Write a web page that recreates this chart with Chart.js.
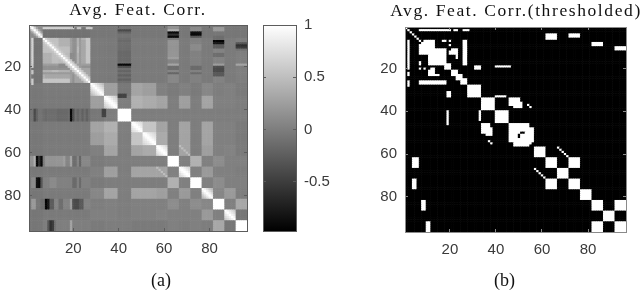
<!DOCTYPE html>
<html>
<head>
<meta charset="utf-8">
<script src="https://cdn.jsdelivr.net/npm/chart.js@4"></script>
<style>
  html, body { margin: 0; background: #fff; overflow: hidden; }
  #wrap { position: relative; width: 640px; height: 292px; overflow: hidden; }
  canvas { position: absolute; top: 0; }
</style>
</head>
<body>
<div id="wrap">
  <canvas id="corr" style="left:0" width="276" height="292"></canvas>
  <canvas id="bar" style="left:255px" width="85" height="292"></canvas>
  <canvas id="thresh" style="left:370px" width="292" height="292"></canvas>
</div>
<script>
const featureCount = 96;
const axisTicks = [20, 40, 60, 80];
const barTicks = [1, 0.5, 0, -0.5];
const barMin = -0.97;
const barMax = 1;

// feature groups, last feature of each
const groupEnds = [6, 27, 33, 39, 45, 50, 56, 61, 66, 71, 76, 81, 86, 91, 96];

// average correlation between groups (upper triangle)
const groupCorr = [
  [.1, -.05, -.04, -.04, -.08, -.04, -.04, -.04, -.04, -.04, -.04, -.05, -.05, -.05, -.05],
  [.4, -.02, -.03, -.12, -.02, -.02, -.02, .06, -.02, .03, -.02, .04, -.02, .01],
  [.68, .26, -.04, .3, .25, .02, -.02, .02, -.02, .07, .0, .02, -.02],
  [.78, .0, .4, .35, .3, .0, .26, .0, .3, .02, .02, .0],
  [1, .0, .0, .0, .0, .0, .0, .0, .0, .0, .0],
  [.85, .55, .3, .0, .3, .0, .3, .02, .02, -.02],
  [.85, .35, .0, .3, .0, .3, .02, .02, -.02],
  [.85, .0, .3, .0, .26, .02, .04, -.02],
  [1, .02, .38, .02, .12, .02, .02],
  [.9, .02, .22, .02, .02, .0],
  [1, .02, .12, .02, .02],
  [.75, .07, .22, .0],
  [1, .02, .33],
  [.85, -.05],
  [1]
];

// finer stripes: first col, last col, first row, last row, value (mirrored over the diagonal)
const corrPatches = [
  [7, 18, 2, 2, .65], [19, 20, 2, 2, .6], [22, 23, 2, 2, .55], [26, 28, 2, 2, .6],
  [7, 27, 3, 6, -.1], [3, 5, 7, 27, -.08], [1, 1, 7, 27, .12],
  [7, 13, 7, 13, .52], [14, 18, 11, 13, .5], [15, 18, 14, 17, .47], [21, 23, 11, 13, .47],
  [26, 27, 7, 17, .56], [7, 18, 26, 27, .55], [19, 20, 7, 27, .25], [7, 27, 20, 21, .15],
  [7, 27, 23, 23, .22], [21, 27, 21, 27, .3], [14, 18, 19, 20, .1], [24, 25, 8, 18, .32],
  [40, 45, 3, 3, -.4], [40, 45, 4, 4, -.2], [40, 45, 8, 8, -.15], [40, 45, 12, 13, -.12],
  [40, 45, 19, 19, -.9], [40, 45, 20, 20, -.35], [40, 45, 24, 24, -.22], [40, 45, 26, 26, -.22],
  [40, 45, 13, 17, -.16], [40, 45, 22, 22, -.2], [40, 43, 33, 34, -.45],
  [62, 66, 1, 2, .15], [62, 66, 3, 3, .38], [62, 66, 4, 4, -.9], [62, 66, 5, 5, -.6], [62, 66, 6, 6, -.9],
  [62, 66, 7, 7, .0], [62, 66, 8, 12, .17], [62, 66, 13, 15, .18], [62, 66, 16, 16, .24],
  [62, 66, 19, 19, .3], [62, 66, 20, 21, -.12], [62, 66, 23, 23, -.18], [62, 66, 24, 27, .08],
  [72, 76, 2, 3, .1], [72, 76, 4, 4, -.85], [72, 76, 5, 5, -.9], [72, 76, 6, 6, -.3],
  [72, 76, 10, 12, .1], [72, 76, 20, 21, -.14], [72, 76, 23, 23, -.14],
  [82, 86, 2, 3, .22], [82, 86, 6, 7, -.12], [82, 86, 8, 8, -.95], [82, 86, 9, 9, -.8],
  [82, 86, 10, 11, -.25], [82, 86, 14, 15, -.12], [82, 86, 19, 19, .24],
  [82, 86, 20, 20, -.35], [82, 86, 21, 22, -.4], [82, 86, 23, 24, -.28],
  [92, 96, 9, 9, -.3], [92, 96, 10, 10, -.6], [92, 96, 11, 11, -.5], [92, 96, 12, 12, -.08], [92, 96, 19, 19, .3],
  [67, 67, 57, 57, .5], [68, 68, 58, 58, .5], [69, 69, 59, 59, .5], [70, 70, 60, 60, .5], [71, 71, 61, 61, .5],
  [72, 76, 62, 66, .4], [92, 96, 82, 86, .33]
];

// value by distance from the diagonal, per block: first, last, values
const diagBands = [
  [1, 6, [1, .7, .3]],
  [7, 27, [1, .7, .55]],
  [28, 33, [1, .9, .8, .7, .6, .5]],
  [34, 39, [1, .95, .85, .75, .7, .6]],
  [40, 45, [1, 1, 1, 1, 1, 1]],
  [46, 50, [1, .95, .85, .8, .75]],
  [51, 56, [1, .95, .85, .8, .75, .7]],
  [57, 61, [1, .95, .85, .8, .7]],
  [67, 71, [1, .95, .85, .75, .7]],
  [77, 81, [1, .9, .75, .6, .5]],
  [87, 91, [1, .9, .8, .7, .6]]
];

// white rectangles of the thresholded panel: first col, last col, first row, last row (mirrored)
const threshRects = [
  [7, 13, 7, 13], [14, 18, 11, 13], [15, 18, 14, 17], [21, 23, 11, 13], [26, 27, 7, 17], [7, 18, 26, 27],
  [7, 18, 2, 2], [19, 20, 2, 2], [22, 22, 2, 2], [23, 23, 2, 2], [26, 28, 2, 2],
  [17, 18, 7, 7], [20, 20, 7, 7], [20, 20, 9, 9], [19, 20, 18, 20], [21, 22, 22, 23], [23, 25, 23, 25],
  [12, 13, 20, 20], [14, 15, 23, 23], [25, 27, 25, 27], [19, 20, 31, 33],
  [28, 33, 28, 33], [34, 39, 34, 39], [40, 45, 40, 45], [46, 56, 46, 56],
  [57, 61, 57, 61], [62, 66, 62, 66], [67, 71, 67, 71], [72, 76, 72, 76],
  [77, 81, 77, 81], [82, 86, 82, 86], [87, 91, 87, 91], [92, 96, 92, 96],
  [72, 76, 62, 66], [92, 96, 82, 86], [62, 66, 4, 6], [72, 76, 4, 5], [82, 86, 8, 9], [92, 96, 10, 11],
  [46, 50, 34, 37], [48, 51, 36, 38], [54, 54, 37, 37], [55, 55, 38, 38],
  [40, 46, 19, 19], [40, 44, 33, 33], [32, 33, 19, 19],
  [67, 67, 57, 57], [68, 68, 58, 58], [69, 69, 59, 59], [70, 70, 60, 60], [71, 71, 61, 61]
];
// black cut outs inside the white blobs
const threshHoles = [
  [46, 47, 55, 56], [56, 56, 55, 56],
  [51, 52, 50, 50],
  [7, 7, 8, 8]
];

function emptyGrid(v) {
  return Array.from({ length: featureCount }, () => Array(featureCount).fill(v));
}

function buildCorr() {
  const grid = emptyGrid(0);
  const groupOf = [];
  groupEnds.forEach((end, g) => { while (groupOf.length < end) groupOf.push(g); });
  for (let r = 0; r < featureCount; r++) {
    for (let c = 0; c < featureCount; c++) {
      const a = Math.min(groupOf[r], groupOf[c]);
      const b = Math.max(groupOf[r], groupOf[c]);
      grid[r][c] = groupCorr[a][b - a];
    }
  }
  corrPatches.forEach(([c0, c1, r0, r1, v]) => {
    for (let c = c0; c <= c1; c++) {
      for (let r = r0; r <= r1; r++) {
        grid[r - 1][c - 1] = v;
        grid[c - 1][r - 1] = v;
      }
    }
  });
  diagBands.forEach(([from, to, values]) => {
    for (let r = from; r <= to; r++) {
      for (let c = from; c <= to; c++) {
        const v = values[Math.abs(r - c)];
        if (v !== undefined) grid[r - 1][c - 1] = v;
      }
    }
  });
  return grid;
}

function buildThresh() {
  const grid = emptyGrid(barMin);
  for (let i = 0; i < featureCount; i++) grid[i][i] = barMax;
  const paint = (rects, v) => rects.forEach(([c0, c1, r0, r1]) => {
    for (let c = c0; c <= c1; c++) {
      for (let r = r0; r <= r1; r++) {
        grid[r - 1][c - 1] = v;
        grid[c - 1][r - 1] = v;
      }
    }
  });
  paint(threshRects, barMax);
  paint(threshHoles, barMin);
  return grid;
}

function toCells(grid) {
  const cells = [];
  grid.forEach((row, r) => row.forEach((v, c) => cells.push({ x: c + 1, y: r + 1, v: v })));
  return cells;
}

function grayOf(v) {
  const t = Math.max(0, Math.min(1, (v - barMin) / (barMax - barMin)));
  const g = Math.round(t * 255);
  return `rgb(${g},${g},${g})`;
}

// no matrix chart type in plain Chart.js, so the cells are painted from the dataset through the scales
const heatCells = {
  id: 'heatCells',
  beforeDatasetsDraw(chart) {
    const { ctx, chartArea: area, scales: { x, y } } = chart;
    ctx.save();
    ctx.beginPath();
    ctx.rect(area.left, area.top, area.right - area.left, area.bottom - area.top);
    ctx.clip();
    chart.data.datasets[0].data.forEach(cell => {
      const x0 = x.getPixelForValue(cell.x - 0.5);
      const x1 = x.getPixelForValue(cell.x + 0.5);
      const y0 = y.getPixelForValue(cell.y - 0.5);
      const y1 = y.getPixelForValue(cell.y + 0.5);
      ctx.fillStyle = grayOf(cell.v);
      // small overlap, the next cell paints over it, so no seams show
      ctx.fillRect(x0, y0, x1 - x0 + 0.6, y1 - y0 + 0.6);
    });
    ctx.restore();
  }
};

// the printed title is spaced wider than the canvas default
const spacedTitle = {
  id: 'spacedTitle',
  afterLayout(chart) {
    const block = chart.titleBlock;
    if (!block || block._spaced) return;
    const draw = block.draw.bind(block);
    block.draw = () => {
      chart.ctx.letterSpacing = '1.6px';
      draw();
      chart.ctx.letterSpacing = '0px';
    };
    block._spaced = true;
  }
};

// (a) and (b) sit under the whole panel and not under the plot, a scale title can't do that
const caption = {
  id: 'caption',
  afterDraw(chart, args, opts) {
    const { ctx, chartArea: area } = chart;
    ctx.save();
    ctx.font = '18px "Liberation Serif"';
    ctx.fillStyle = '#111';
    ctx.textAlign = 'center';
    ctx.textBaseline = 'middle';
    ctx.fillText(opts.text, (area.left + area.right) / 2 + opts.shift, 281);
    ctx.restore();
  }
};

const tickFont = { family: '"Liberation Sans"', size: 15 };
const tickColor = '#3a3a3a';
const frameColor = '#5c5c5c';

function axis(position, min, max, opts) {
  const { ticks, reverse, size, labels, color } = opts;
  const isX = position === 'top' || position === 'bottom';
  return {
    type: 'linear',
    axis: isX ? 'x' : 'y',
    position: position,
    min: min,
    max: max,
    reverse: !!reverse,
    border: { display: true, color: color || frameColor, width: 1, z: 1 },
    grid: { drawOnChartArea: false, drawTicks: true, tickLength: -3, tickWidth: 1, color: color || frameColor, z: 1 },
    ticks: {
      display: !!labels,
      font: tickFont,
      color: tickColor,
      padding: isX ? 12 : 11,
      autoSkip: false,
      maxRotation: 0,
      callback: v => String(v)
    },
    afterBuildTicks: s => { s.ticks = ticks.map(v => ({ value: v })); },
    afterFit: s => {
      if (isX) s.height = size; else s.width = size;
    }
  };
}

function heatChart(id, grid, titleText, captionText, shift, box, frame) {
  const lo = 0.5;
  const hi = featureCount + 0.5;
  return new Chart(document.getElementById(id), {
    type: 'scatter',
    data: { datasets: [{ data: toCells(grid), pointRadius: 0, pointHoverRadius: 0 }] },
    options: {
      responsive: false,
      animation: false,
      events: [],
      plugins: {
        legend: { display: false },
        tooltip: { enabled: false },
        caption: { text: captionText, shift: shift },
        title: {
          display: true,
          text: titleText,
          color: '#111',
          font: { family: '"Liberation Serif"', size: 17.5, weight: 'normal', lineHeight: 1.2 },
          padding: { top: box.titleTop, bottom: box.top - 21 - box.titleTop }
        }
      },
      scales: {
        x: axis('bottom', lo, hi, { ticks: axisTicks, size: box.bottom, labels: true, color: frame }),
        y: axis('left', lo, hi, { ticks: axisTicks, reverse: true, size: box.left, labels: true, color: frame }),
        xt: axis('top', lo, hi, { ticks: axisTicks, size: 0, color: frame }),
        yr: axis('right', lo, hi, { ticks: axisTicks, reverse: true, size: box.right, color: frame })
      }
    },
    plugins: [heatCells, spacedTitle, caption]
  });
}

heatChart('corr', buildCorr(), 'Avg. Feat. Corr.', '(a)', 23,
  { left: 29, right: 29, top: 25, bottom: 61, titleTop: 0 }, frameColor);

heatChart('thresh', buildThresh(), 'Avg. Feat. Corr.(thresholded)', '(b)', -11,
  { left: 35, right: 36, top: 27, bottom: 60, titleTop: 1 }, '#8a8a8a');

new Chart(document.getElementById('bar'), {
  type: 'bar',
  data: {
    labels: [''],
    datasets: [{
      data: [[barMin, barMax]],
      barPercentage: 1,
      categoryPercentage: 1,
      backgroundColor: c => {
        const area = c.chart.chartArea;
        if (!area) return '#808080';
        const g = c.chart.ctx.createLinearGradient(0, area.bottom, 0, area.top);
        g.addColorStop(0, '#000');
        g.addColorStop(1, '#fff');
        return g;
      }
    }]
  },
  options: {
    responsive: false,
    animation: false,
    events: [],
    layout: { padding: { left: 8, top: 25 } },
    plugins: { legend: { display: false }, tooltip: { enabled: false } },
    scales: {
      x: {
        type: 'category',
        position: 'bottom',
        ticks: { display: false },
        grid: { display: false },
        border: { display: true, color: frameColor, z: 1 },
        afterFit: s => { s.height = 61; }
      },
      y: axis('right', barMin, barMax, { ticks: barTicks, size: 44, labels: true }),
      yl: axis('left', barMin, barMax, { ticks: barTicks, size: 0 }),
      xt: {
        type: 'category',
        position: 'top',
        ticks: { display: false },
        grid: { display: false },
        border: { display: true, color: frameColor, z: 1 },
        afterFit: s => { s.height = 0; }
      }
    }
  }
});
</script>
</body>
</html>
